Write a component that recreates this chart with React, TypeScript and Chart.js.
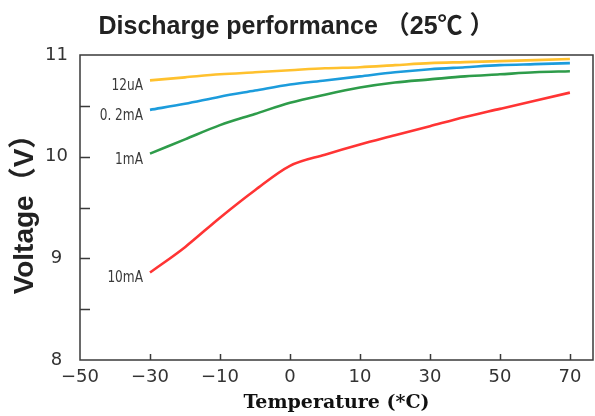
import React, { useEffect, useRef } from 'react';
import { Chart, registerables } from 'chart.js';

Chart.register(...registerables);

const TITLE = 'Discharge performance （25℃ ）';
const X_TITLE = 'Temperature (*C)';
const Y_TITLE = 'Voltage（V）';

const TEMP_TICKS = [-50, -30, -10, 0, 10, 30, 50, 70];
const TEMP_TICK_LABELS = ['−50', '−30', '−10', '0', '10', '30', '50', '70'];

const Y_MIN = 8;
const Y_MAX = 11;
const Y_STEP = 0.5;

const SAMPLE_TEMPS = [-30, -20, -10, -5, 0, 5, 10, 20, 30, 40, 50, 60, 70];
const V_12UA = [10.75, 10.78, 10.81, 10.83, 10.85, 10.87, 10.88, 10.9, 10.92, 10.93, 10.94, 10.95, 10.96];
const V_02MA = [10.46, 10.52, 10.59, 10.65, 10.71, 10.75, 10.79, 10.83, 10.86, 10.88, 10.9, 10.91, 10.92];
const V_1MA = [10.03, 10.17, 10.31, 10.42, 10.53, 10.61, 10.68, 10.73, 10.76, 10.79, 10.81, 10.83, 10.84];
const V_10MA = [8.86, 9.11, 9.4, 9.67, 9.91, 10.02, 10.12, 10.21, 10.3, 10.39, 10.47, 10.55, 10.63];

const SERIES_NAMES = ['12uA', '0. 2mA', '1mA', '10mA'];
const SERIES_VALUES = [V_12UA, V_02MA, V_1MA, V_10MA];
const SERIES_COLORS = ['#FFC12E', '#1C9CDC', '#2E9C4A', '#FF3434'];

// The temperature axis is drawn with equally spaced (non-linear) tick labels,
// so temperatures are mapped piecewise onto tick-index positions.
function tempToPos(t: number): number {
  for (let i = 0; i < TEMP_TICKS.length - 1; i++) {
    const a = TEMP_TICKS[i];
    const b = TEMP_TICKS[i + 1];
    if (t >= a && t <= b) return i + (t - a) / (b - a);
  }
  return TEMP_TICKS.length - 1;
}

const FONT_SANS = "'DejaVu Sans', 'Noto Sans CJK SC', sans-serif";
const FONT_ARIAL = "'Liberation Sans', 'Noto Sans CJK SC', sans-serif";

const decorPlugin = {
  id: 'decor',
  beforeDatasetsDraw(chart: any) {
    const { ctx, chartArea: a, scales } = chart;
    ctx.save();
    ctx.strokeStyle = '#3a3a3a';
    ctx.lineWidth = 1.5;
    ctx.strokeRect(a.left, a.top, a.right - a.left, a.bottom - a.top);
    ctx.beginPath();
    scales.y.ticks.forEach((t: any) => {
      if (t.value > Y_MIN && t.value < Y_MAX) {
        const py = Math.round(scales.y.getPixelForValue(t.value)) + 0.5;
        ctx.moveTo(a.left, py);
        ctx.lineTo(a.left + 10, py);
      }
    });
    scales.x.ticks.forEach((t: any) => {
      if (t.value > 0) {
        const px = Math.round(scales.x.getPixelForValue(t.value)) + 0.5;
        ctx.moveTo(px, a.bottom);
        ctx.lineTo(px, a.bottom - 6);
      }
    });
    ctx.stroke();
    ctx.restore();
  },
  afterDatasetsDraw(chart: any) {
    const { ctx } = chart;
    ctx.save();
    ctx.fillStyle = '#3a3a3a';
    ctx.font = "15px 'DejaVu Sans Condensed', 'DejaVu Sans', sans-serif";
    ctx.textAlign = 'right';
    ctx.textBaseline = 'middle';
    SERIES_NAMES.forEach((name, i) => {
      const p = chart.getDatasetMeta(i).data[0];
      if (!p) return;
      ctx.save();
      ctx.translate(p.x - 7, p.y + 6);
      ctx.scale(0.9, 1);
      ctx.fillText(name, 0, 0);
      ctx.restore();
    });
    ctx.restore();
  },
};

export default function App() {
  const canvasRef = useRef<HTMLCanvasElement | null>(null);

  useEffect(() => {
    document.body.style.margin = '0';
    const canvas = canvasRef.current;
    if (!canvas) return;
    const chart = new Chart(canvas, {
      type: 'line',
      data: {
        datasets: SERIES_NAMES.map((name, i) => ({
          label: name,
          data: SAMPLE_TEMPS.map((t, j) => ({ x: tempToPos(t), y: SERIES_VALUES[i][j] })),
          borderColor: SERIES_COLORS[i],
          backgroundColor: SERIES_COLORS[i],
          borderWidth: 2.6,
          pointRadius: 0,
          cubicInterpolationMode: 'monotone' as const,
          fill: false,
        })),
      },
      options: {
        responsive: false,
        animation: false,
        layout: { padding: { left: 0, right: 2, top: 0, bottom: 0 } },
        plugins: {
          legend: { display: false },
          tooltip: { enabled: false },
          title: {
            display: true,
            text: TITLE,
            color: '#222',
            font: { family: FONT_ARIAL, size: 25, weight: 'bold' as const, lineHeight: 1.2 },
            padding: { top: 12, bottom: 13 },
          },
        },
        scales: {
          x: {
            type: 'linear',
            min: 0,
            max: 7.33,
            grid: { display: false, drawTicks: false },
            border: { display: false },
            afterBuildTicks: (scale: any) => {
              scale.ticks = TEMP_TICKS.map((_, i) => ({ value: i }));
            },
            afterFit: (scale: any) => {
              scale.height = 56;
            },
            ticks: {
              autoSkip: false,
              maxRotation: 0,
              padding: 7,
              color: '#333',
              font: { family: FONT_SANS, size: 18 },
              callback: (v: any) => TEMP_TICK_LABELS[Math.round(Number(v))] ?? '',
            },
            title: {
              display: true,
              text: X_TITLE,
              color: '#111',
              font: { family: "'DejaVu Serif', serif", size: 19, weight: 'bold' as const, lineHeight: 1.2 },
              padding: { top: 0, bottom: 2 },
            },
          },
          y: {
            type: 'linear',
            min: Y_MIN,
            max: Y_MAX,
            grid: { display: false, drawTicks: false },
            border: { display: false },
            afterFit: (scale: any) => {
              scale.width = 80;
            },
            ticks: {
              stepSize: Y_STEP,
              padding: 12,
              crossAlign: 'center' as const,
              color: '#333',
              font: { family: FONT_SANS, size: 18 },
              callback: (v: any) => (Number.isInteger(Number(v)) ? String(v) : ''),
            },
            title: {
              display: true,
              text: Y_TITLE,
              color: '#222',
              font: { family: FONT_ARIAL, size: 28, weight: 'bold' as const, lineHeight: 1.2 },
              padding: { top: 8, bottom: 0 },
            },
          },
        },
      },
      plugins: [decorPlugin],
    } as any);
    return () => chart.destroy();
  }, []);

  return (
    <div style={{ position: 'fixed', left: 0, top: 0, width: 595, height: 416, background: '#fff' }}>
      <canvas ref={canvasRef} width={595} height={416} />
    </div>
  );
}
